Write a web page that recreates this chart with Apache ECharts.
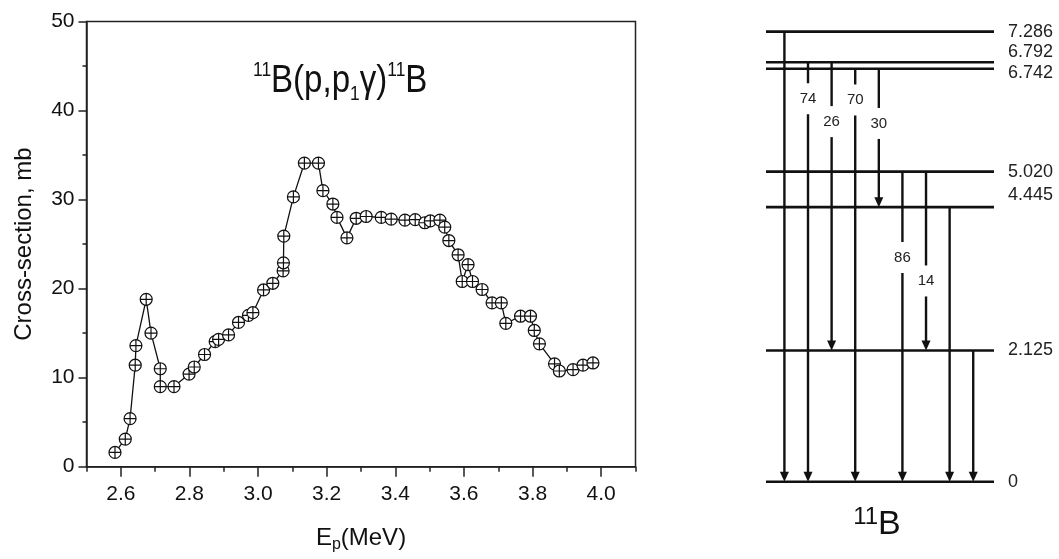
<!DOCTYPE html>
<html>
<head>
<meta charset="utf-8">
<script src="https://cdn.jsdelivr.net/npm/echarts@6/dist/echarts.min.js"></script>
<style>
  html, body { margin: 0; padding: 0; background: #fff; }
  #chart { width: 1059px; height: 559px; }
</style>
</head>
<body>
<div id="chart"></div>
<script>
// ---------------- DATA ----------------
// Excitation function 11B(p,p1γ)11B : proton energy (MeV) and cross-section (mb)
const ENERGY = [2.583, 2.613, 2.627, 2.642, 2.644, 2.674, 2.688, 2.715, 2.715, 2.755,
  2.799, 2.814, 2.844, 2.875, 2.885, 2.914, 2.943, 2.972, 2.985, 3.016,
  3.043, 3.073, 3.074, 3.075, 3.103, 3.135, 3.176, 3.189, 3.218, 3.230,
  3.259, 3.286, 3.315, 3.359, 3.388, 3.428, 3.458, 3.486, 3.502, 3.530,
  3.544, 3.556, 3.583, 3.595, 3.612, 3.625, 3.653, 3.682, 3.709, 3.722,
  3.765, 3.794, 3.805, 3.820, 3.864, 3.878, 3.918, 3.947, 3.976];
const CROSS_SECTION = [1.6, 3.1, 5.4, 11.4, 13.6, 18.8, 15.0, 11.0, 9.0, 9.0,
  10.4, 11.2, 12.6, 14.05, 14.3, 14.8, 16.2, 17.0, 17.3, 19.85,
  20.6, 22.0, 22.9, 25.9, 30.3, 34.1, 34.1, 31.0, 29.5, 28.0,
  25.7, 27.9, 28.1, 28.0, 27.8, 27.7, 27.75, 27.4, 27.6, 27.7,
  26.9, 25.4, 23.8, 20.8, 22.7, 20.8, 19.9, 18.4, 18.4, 16.1,
  16.9, 16.9, 15.3, 13.8, 11.55, 10.75, 10.9, 11.4, 11.65];
const X_MAJOR_TICKS = [2.6, 2.8, 3.0, 3.2, 3.4, 3.6, 3.8, 4.0];

// Level scheme of 11B (MeV)
const LEVEL_E = [0, 2.125, 4.445, 5.020, 6.742, 6.792, 7.286];
const LEVEL_LABELS = ['0', '2.125', '4.445', '5.020', '6.742', '6.792', '7.286'];
// gamma transitions (in drawing order, left to right)
const TRANS_FROM = [7.286, 6.792, 6.792, 6.742, 6.742, 5.020, 5.020, 4.445, 2.125];
const TRANS_TO   = [0,     0,     2.125, 0,     4.445, 0,     2.125, 0,     0];
const TRANS_BRANCH = ['', '74', '26', '70', '30', '86', '14', '', ''];
const TRANS_BRANCH_AT = [null, 6.20, 5.83, 6.18, 5.80, 3.63, 3.25, null, null];

// ---------------- STYLE ----------------
const FONT = '"Liberation Sans", Arial, Helvetica, sans-serif';
const INK = '#111';
const AXIS = '#222';
const MIN_LEVEL_GAP = 6.5;                       // px, keep close levels visibly apart
const LEVEL_LABEL_NUDGE = [0, 0, -12, 0.5, 4.5, -10.5, 0]; // px, label de-overlap
const SYMBOL = 'path://M10,0 A10,10 0 1,1 10,20 A10,10 0 1,1 10,0 Z M0,10 L20,10 M10,0 L10,20';

function levelYs(api) {
  const ys = LEVEL_E.map(e => api.coord([0, e])[1]);
  const order = LEVEL_E.map((e, i) => i).sort((a, b) => LEVEL_E[b] - LEVEL_E[a]);
  for (let k = 1; k < order.length; k++) {
    const prev = order[k - 1], cur = order[k];
    if (ys[cur] - ys[prev] < MIN_LEVEL_GAP) ys[cur] = ys[prev] + MIN_LEVEL_GAP;
  }
  return ys;
}

const chart = echarts.init(document.getElementById('chart'), null, { renderer: 'canvas' });

const option = {
  animation: false,
  backgroundColor: '#fff',
  textStyle: { fontFamily: FONT },
  grid: [
    { left: 86.5, top: 21.5, width: 549, height: 445.2, show: true,
      borderColor: AXIS, borderWidth: 1.5, backgroundColor: 'transparent',
      containLabel: false, outerBoundsMode: 'none' },
    { left: 766, top: 30.8, width: 228, height: 450.9, show: false,
      containLabel: false, outerBoundsMode: 'none' }
  ],
  xAxis: [
    { gridIndex: 0, type: 'value', min: 2.5, max: 4.1, interval: 0.1, position: 'bottom',
      axisLine: { show: true, onZero: false, lineStyle: { color: AXIS, width: 1.5 } },
      axisTick: { show: true, inside: false, length: 5, lineStyle: { color: AXIS, width: 1.5 } },
      axisLabel: { show: false }, splitLine: { show: false } },
    { gridIndex: 0, type: 'value', min: 2.5, max: 4.1, position: 'bottom',
      axisLine: { show: false, onZero: false },
      axisTick: { show: true, inside: false, length: 10, customValues: X_MAJOR_TICKS,
        lineStyle: { color: AXIS, width: 1.5 } },
      axisLabel: { show: true, customValues: X_MAJOR_TICKS, margin: 17,
        formatter: v => v.toFixed(1), fontSize: 21, color: INK, fontFamily: FONT },
      splitLine: { show: false },
      name: '{m|E}{s|p}{m|(MeV)}', nameLocation: 'middle', nameGap: 58,
      nameTextStyle: { color: INK, fontFamily: FONT,
        rich: { m: { fontSize: 24, lineHeight: 28, color: INK, fontFamily: FONT },
                s: { fontSize: 16, lineHeight: 14, verticalAlign: 'bottom', color: INK, fontFamily: FONT } } } },
    { gridIndex: 1, type: 'value', min: -0.78, max: 8.88, show: false }
  ],
  yAxis: [
    { gridIndex: 0, type: 'value', min: 0, max: 50, interval: 10,
      axisLine: { show: true, lineStyle: { color: AXIS, width: 1.5 } },
      axisTick: { show: true, inside: false, length: 8, lineStyle: { color: AXIS, width: 1.5 } },
      minorTick: { show: true, splitNumber: 2, length: 4, lineStyle: { color: AXIS, width: 1.5 } },
      axisLabel: { margin: 12, fontSize: 21, color: INK, fontFamily: FONT },
      splitLine: { show: false }, minorSplitLine: { show: false },
      name: 'Cross-section, mb', nameLocation: 'middle', nameGap: 50, nameRotate: 90,
      nameTextStyle: { fontSize: 24, color: INK, fontFamily: FONT } },
    { gridIndex: 1, type: 'value', min: 0, max: 7.3, show: false }
  ],
  graphic: [
    { type: 'text', x: 253, y: 60, scaleX: 0.87, z: 10,
      style: {
        text: '{sup|11}{main|B(p,p}{sub|1}{main|γ)}{sup|11}{main|B}',
        align: 'left', verticalAlign: 'top', fill: INK, font: '38px ' + FONT,
        rich: {
          main: { fontSize: 38, lineHeight: 44, fontFamily: FONT, fill: INK },
          sup: { fontSize: 20, lineHeight: 12, verticalAlign: 'top', fontFamily: FONT, fill: INK },
          sub: { fontSize: 20, lineHeight: 24, verticalAlign: 'bottom', fontFamily: FONT, fill: INK }
        }
      } },
    { type: 'text', x: 877, y: 505, z: 10,
      style: {
        text: '{sup|11}{main|B}',
        align: 'center', verticalAlign: 'top', fill: INK, font: '34px ' + FONT,
        rich: {
          main: { fontSize: 34, lineHeight: 40, fontFamily: FONT, fill: INK },
          sup: { fontSize: 24, lineHeight: 24, verticalAlign: 'top', fontFamily: FONT, fill: INK }
        }
      } }
  ],
  series: [
    { type: 'line', xAxisIndex: 0, yAxisIndex: 0,
      data: ENERGY.map((e, i) => [e, CROSS_SECTION[i]]),
      symbol: SYMBOL, symbolSize: 12, showAllSymbol: true, showSymbol: true,
      lineStyle: { color: INK, width: 1.3 },
      itemStyle: { color: '#fff', borderColor: INK, borderWidth: 1.2 },
      emphasis: { disabled: true }, z: 3 },
    { type: 'custom', xAxisIndex: 2, yAxisIndex: 1, clip: false,
      data: LEVEL_E.map((e, i) => [i, e]),
      renderItem: function (params, api) {
        const i = params.dataIndex;
        const cs = params.coordSys;
        const y = levelYs(api)[i];
        return { type: 'group', children: [
          { type: 'line', shape: { x1: cs.x, y1: y, x2: cs.x + cs.width, y2: y },
            style: { stroke: INK, lineWidth: 2.6 } },
          { type: 'text', style: { text: LEVEL_LABELS[i], x: cs.x + cs.width + 14,
              y: y + LEVEL_LABEL_NUDGE[i], align: 'left', verticalAlign: 'middle',
              fill: '#222', font: '18px ' + FONT } }
        ] };
      } },
    { type: 'custom', xAxisIndex: 2, yAxisIndex: 1, clip: false,
      data: TRANS_FROM.map((f, i) => [i, f, TRANS_TO[i]]),
      renderItem: function (params, api) {
        const i = params.dataIndex;
        const ys = levelYs(api);
        const x = api.coord([i, 0])[0];
        const y0 = ys[LEVEL_E.indexOf(TRANS_FROM[i])];
        const y1 = ys[LEVEL_E.indexOf(TRANS_TO[i])];
        const children = [
          { type: 'line', shape: { x1: x, y1: y0, x2: x, y2: y1 - 8 },
            style: { stroke: INK, lineWidth: 2.4 } },
          { type: 'polygon', shape: { points: [[x - 4.5, y1 - 10], [x + 4.5, y1 - 10], [x, y1]] },
            style: { fill: INK } }
        ];
        if (TRANS_BRANCH[i]) {
          const yl = api.coord([i, TRANS_BRANCH_AT[i]])[1];
          children.push({ type: 'text', z2: 5, style: { text: TRANS_BRANCH[i], x: x, y: yl,
            align: 'center', verticalAlign: 'middle', fill: '#222', font: '15px ' + FONT,
            backgroundColor: '#fff', padding: [8, 3] } });
        }
        return { type: 'group', children: children };
      } }
  ]
};
chart.setOption(option);
</script>
</body>
</html>
